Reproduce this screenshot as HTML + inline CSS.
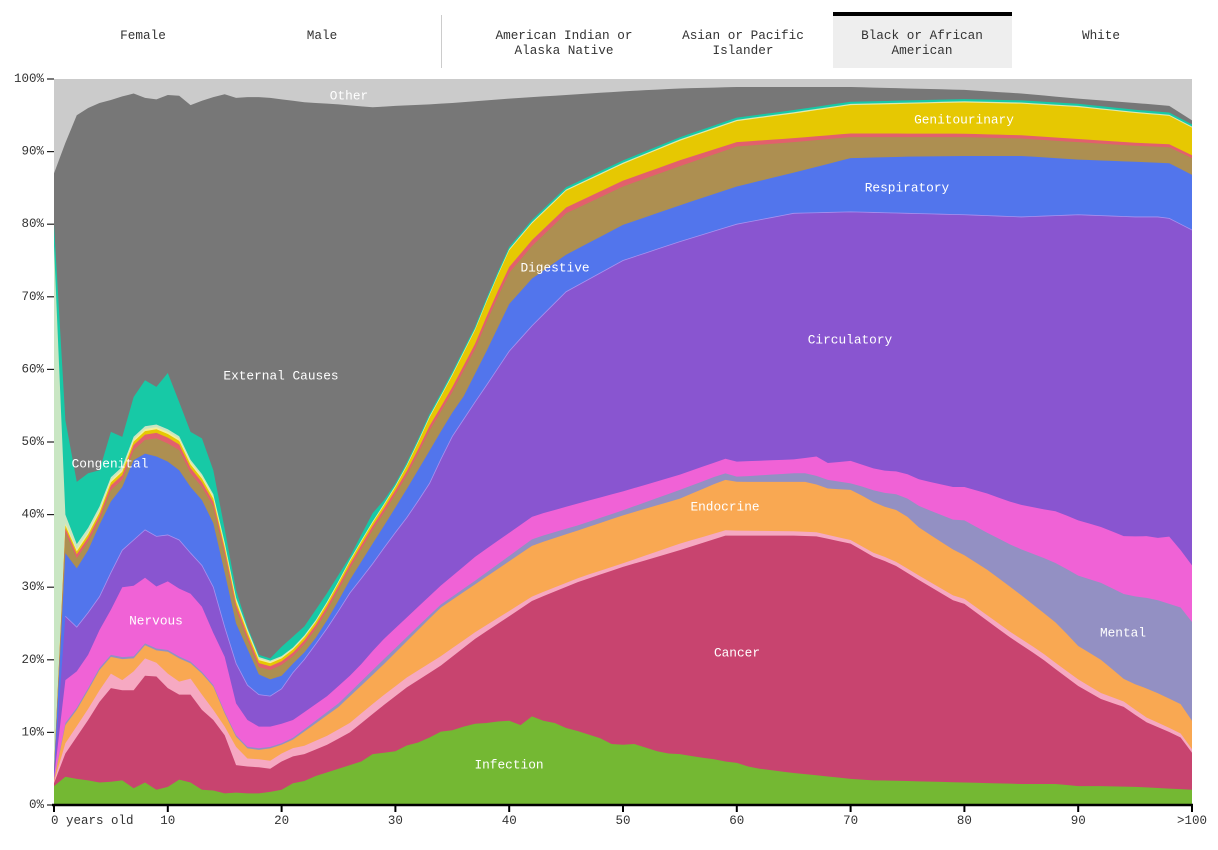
<!DOCTYPE html>
<html>
<head>
<meta charset="utf-8">
<style>
  html, body { margin:0; padding:0; background:#fff; }
  body { width:1218px; height:850px; position:relative; overflow:hidden;
         font-family:"Liberation Mono","DejaVu Sans Mono",monospace; color:#333; }
  .tab { position:absolute; top:28px; width:178px; text-align:center;
         font-size:12.7px; line-height:15px; color:#333; }
  .active-bg { position:absolute; left:833px; top:16px; width:179px; height:52px; background:#eeeeee; }
  .active-bar { position:absolute; left:833px; top:12px; width:179px; height:4px; background:#000; }
  .sep { position:absolute; left:441px; top:15px; width:1px; height:53px; background:#cccccc; }
  svg { position:absolute; left:0; top:0; }
</style>
</head>
<body>
<div class="active-bg"></div>
<div class="active-bar"></div>
<div class="sep"></div>
<div class="tab" style="left:54px;">Female</div>
<div class="tab" style="left:233px;">Male</div>
<div class="tab" style="left:475px;">American Indian or<br>Alaska Native</div>
<div class="tab" style="left:654px;">Asian or Pacific<br>Islander</div>
<div class="tab" style="left:833px;">Black or African<br>American</div>
<div class="tab" style="left:1012px;">White</div>

<svg id="chart" width="1218" height="850" xmlns="http://www.w3.org/2000/svg">
  <g id="areas"></g>
  <g id="axes" font-family="Liberation Mono, DejaVu Sans Mono, monospace" font-size="12.5" fill="#333"></g>
  <g id="labels" font-family="Liberation Mono, DejaVu Sans Mono, monospace" font-size="12.8" fill="#ffffff" text-anchor="middle" dominant-baseline="central">
    <text x="349" y="96">Other</text>
    <text x="281" y="376">External Causes</text>
    <text x="110" y="464">Congenital</text>
    <text x="156" y="621">Nervous</text>
    <text x="555" y="268">Digestive</text>
    <text x="964" y="120">Genitourinary</text>
    <text x="907" y="188">Respiratory</text>
    <text x="850" y="340">Circulatory</text>
    <text x="725" y="507">Endocrine</text>
    <text x="737" y="653">Cancer</text>
    <text x="1123" y="633">Mental</text>
    <text x="509" y="765">Infection</text>
  </g>
</svg>

<script>
(function(){
  var NS = "http://www.w3.org/2000/svg";
  function X(a){ return 54 + a*11.38; }
  function Y(p){ return 805 - p*7.26; }
  function interp(pts, a){
    if (a <= pts[0][0]) return pts[0][1];
    for (var i=1;i<pts.length;i++){
      if (a <= pts[i][0]){
        var a0=pts[i-1][0], v0=pts[i-1][1], a1=pts[i][0], v1=pts[i][1];
        return v0 + (v1-v0)*(a-a0)/(a1-a0);
      }
    }
    return pts[pts.length-1][1];
  }
  var layers = [
    {c:"#74b833", t:"top", p:[[0,2.6],[1,3.9],[2,3.6],[3,3.4],[4,3.1],[5,3.2],[6,3.4],[7,2.3],[8,3.1],[9,2.1],[10,2.5],[11,3.5],[12,3.1],[13,2.1],[14,2.0],[15,1.6],[16,1.7],[17,1.6],[18,1.6],[19,1.8],[20,2.1],[21,3.0],[22,3.3],[23,4.0],[24,4.5],[25,5.0],[26,5.5],[27,6.0],[28,7.0],[29,7.2],[30,7.4],[31,8.2],[32,8.6],[33,9.3],[34,10.1],[35,10.3],[36,10.8],[37,11.2],[38,11.3],[39,11.5],[40,11.6],[41,11.0],[42,12.2],[43,11.6],[44,11.3],[45,10.6],[46,10.2],[47,9.7],[48,9.2],[49,8.4],[50,8.3],[51,8.4],[52,7.9],[53,7.4],[54,7.1],[55,7.0],[57,6.5],[58,6.3],[59,6.0],[60,5.8],[61,5.3],[62,5.0],[64,4.6],[65,4.4],[67,4.1],[70,3.6],[72,3.4],[75,3.3],[80,3.1],[85,2.9],[88,2.9],[90,2.6],[92,2.6],[95,2.5],[100,2.1]]},
    {c:"#c8446f", t:"top", p:[[0,3.0],[1,7.1],[2,9.4],[3,11.7],[4,14.2],[5,16.1],[6,15.8],[7,15.8],[8,17.8],[9,17.7],[10,16.1],[11,15.2],[12,15.2],[13,13.1],[14,11.7],[15,9.6],[16,5.5],[17,5.3],[18,5.2],[19,5.0],[20,6.0],[21,6.7],[22,7.0],[24,8.3],[26,10.0],[28.6,13.3],[31,16.2],[33.9,19.1],[37.1,23.0],[40,26.0],[42.1,28.2],[46.2,30.8],[50,32.8],[55,35.1],[59,37.1],[65,37.1],[67,37.0],[70,36.0],[72,34.2],[73.7,33.2],[76.1,30.9],[79,28.2],[80,27.7],[82,25.4],[84,23.1],[86.7,20.3],[88.2,18.5],[90,16.4],[92,14.6],[94.2,13.4],[95.7,11.6],[97.8,10.2],[99,9.3],[100,7.2]]},
    {c:"#f6a9c2", t:"th", p:[[0,0.2],[1,1.4],[4,1.6],[5,2.0],[6,1.4],[7,2.6],[8,2.4],[9,1.9],[10,2.0],[11,1.8],[12,2.2],[13,2.1],[14,1.4],[15,1.2],[16,2.5],[17,1.1],[20,1.1],[28.6,1.4],[33.9,1.3],[37.1,0.9],[42.1,0.6],[50,0.5],[55,0.9],[60,0.7],[70,0.5],[80,0.7],[90,0.9],[100,0.5]]},
    {c:"#f9a852", t:"top", p:[[0,3.4],[1,11.0],[2,13.1],[3,15.8],[4,18.6],[5,20.4],[6,20.1],[7,20.2],[8,22.0],[9,21.3],[10,21.1],[11,20.2],[12,19.5],[13,18.1],[14,16.3],[15,12.6],[16,9.4],[17,7.8],[18,7.6],[19,7.8],[20,8.3],[21,9.0],[25,13.5],[28.6,18.8],[33.9,27.1],[37.1,30.5],[42.1,35.8],[46.2,37.9],[50,39.9],[55,42.2],[58.9,44.8],[60.1,44.5],[64.9,44.5],[66.4,44.5],[67.9,43.6],[70.1,43.4],[72.5,41.3],[74.5,40.4],[76.1,38.1],[79.1,35.1],[80,34.4],[82.1,32.3],[84.5,29.5],[86.7,26.8],[88.2,24.9],[90,21.9],[92.1,19.9],[94.2,17.1],[96.6,15.7],[99,13.9],[100,11.6]]},
    {c:"#9390c3", t:"th", p:[[0,0.1],[1,0.3],[20,0.2],[28.6,0.7],[33.9,0.4],[37.1,0.5],[42.1,0.9],[46.2,0.7],[50,0.7],[55,1.2],[59,0.9],[60,0.7],[65,1.2],[68,1.2],[70,0.9],[72.5,1.8],[74.5,2.3],[76.1,3.0],[79,4.1],[80,4.8],[82,5.1],[84.5,6.0],[86.7,7.4],[88.2,8.3],[90,9.7],[92,10.6],[94.2,11.8],[96.6,12.7],[99,13.3],[100,13.6]]},
    {c:"#f062d6", t:"top", p:[[0,3.7],[1,17.2],[2,18.4],[3,20.7],[4,24.1],[5,26.9],[6,30.0],[7,30.2],[8,31.3],[9,30.1],[10,30.8],[11,29.8],[12,29.1],[13,27.3],[14,23.7],[15,20.4],[16,14.0],[17,11.7],[18,10.8],[19,10.8],[20,11.2],[21,11.7],[24,15.0],[26.5,18.5],[28.6,22.3],[33.9,30.1],[37.1,34.3],[42.1,39.8],[46.2,41.6],[50,43.2],[55,45.5],[59,47.7],[60,47.3],[65,47.6],[67,48.0],[68,47.1],[70,47.4],[72.5,46.1],[74.5,45.9],[76.1,44.8],[79,43.8],[80,43.8],[82,42.9],[84.5,41.5],[86.7,40.8],[88.2,40.4],[90,39.2],[92,38.3],[94.2,36.9],[95.7,37.1],[97.4,36.7],[98.3,37.1],[99,35.1],[100,33.0]]},
    {c:"#8955d0", t:"top", p:[[0,4.0],[1,26.0],[2,24.5],[3,26.5],[4,28.7],[5,32.0],[6,35.1],[7,36.5],[8,37.9],[9,37.0],[10,37.2],[11,36.5],[12,34.7],[13,33.0],[14,30.0],[15,24.5],[16,19.5],[17,16.5],[18,15.2],[19,15.0],[20,16.0],[20.7,17.7],[22.2,20.4],[24.3,25.0],[26,29.2],[27.8,32.8],[29.5,36.5],[31.3,40.2],[33,44.3],[34.8,50.3],[37,55.5],[38,57.8],[40,62.5],[42,66],[45,70.7],[50,75],[55,77.6],[60,80],[65,81.5],[70,81.7],[75,81.5],[80,81.3],[85,81.0],[90,81.3],[95,81.0],[97,81.0],[98,80.8],[100,79.2]]},
    {c:"#5275ec", t:"top", p:[[0,4.5],[1,34.7],[2,32.6],[3,35.1],[4,38.6],[5,41.8],[6,43.8],[7,47.5],[8,48.4],[9,48.0],[10,47.3],[11,46.1],[12,43.8],[13,42.0],[14,38.8],[15,32.0],[16,25.0],[17,21.5],[18,18.0],[19,17.3],[20,17.8],[20.7,19.0],[22.5,21.8],[24.3,26.2],[26,31.0],[27.8,35.5],[29.5,39.7],[31.3,44.3],[33,48.8],[34.8,53.6],[36,56.3],[38,62.5],[40,69.0],[42,72.5],[45,75.8],[50,79.9],[55,82.6],[60,85.2],[65,87.1],[70,89.1],[75,89.3],[80,89.4],[85,89.4],[90,88.9],[95,88.6],[98,88.4],[100,86.8]]},
    {c:"#ad8f51", t:"top", p:[[0,4.7],[1,37.6],[2,34.0],[3,36.3],[4,39.3],[5,43.4],[6,44.8],[7,48.9],[8,50.3],[9,50.5],[10,49.8],[11,48.9],[12,45.7],[13,43.8],[14,41.1],[15,34.5],[16,27.0],[17,22.8],[18,19.0],[19,18.6],[20,19.3],[20.7,20.0],[22.5,23.0],[24.3,27.6],[26,32.6],[27.8,37.4],[29.5,41.5],[31.3,46.2],[33,51.6],[34.8,56.3],[37,62.8],[38,66.5],[39,70.0],[40,73.3],[42,77.0],[45,81.5],[50,85.2],[55,88.0],[60,90.7],[65,91.3],[70,92.0],[75,92.0],[80,92.0],[85,91.8],[90,91.3],[95,90.8],[98,90.6],[100,89.1]]},
    {c:"#e2606c", t:"th", p:[[0,0.1],[1,0.5],[5,0.6],[10,0.8],[15,0.6],[20,0.5],[30,0.55],[40,0.8],[55,0.8],[60,0.6],[70,0.5],[100,0.4]]},
    {c:"#e6c802", t:"th", p:[[0,0.1],[1,0.4],[10,0.5],[20,0.4],[30,0.45],[35,1.6],[40,2.3],[50,2.3],[55,2.7],[60,2.9],[70,3.9],[80,4.3],[90,4.4],[100,3.8]]},
    {c:"#f3ee9c", t:"th", p:[[0,0.1],[1,0.3],[15,0.3],[20,0.15],[25,0.1],[100,0.05]]},
    {c:"#c9e6c3", t:"th", p:[[0,72],[1,1.2],[2,0.7],[5,0.4],[15,0.3],[20,0.15],[30,0.1],[100,0.1]]},
    {c:"#17c9a6", t:"top", min:0.3, p:[[0,80],[1,53],[2,44.5],[3,45.7],[4,46.1],[5,51.4],[6,50.7],[7,56.2],[8,58.5],[9,57.6],[10,59.5],[11,55.5],[12,51.4],[13,50.5],[14,46.1],[15,38],[16,29.6],[17,23.7],[18,20.2],[19,20.2],[20,21.8],[22,24.6],[24,29.2],[26,34.2],[28,40.2],[30,43.8],[32,49.3],[34,56.2],[35,59],[100,0]]},
    {c:"#777777", t:"top", p:[[0,87],[1,91.2],[2,95.0],[3,96.0],[4,96.7],[5,97.1],[6,97.6],[7,98.0],[8,97.4],[9,97.2],[10,97.8],[11,97.7],[12,96.4],[13,97.0],[14,97.5],[15,97.9],[16,97.4],[17,97.5],[18,97.5],[19,97.4],[20,97.2],[22,96.8],[25,96.5],[28,96.1],[30,96.3],[33,96.5],[35,96.7],[40,97.3],[45,97.8],[50,98.3],[55,98.7],[60,98.9],[70,98.9],[75,98.7],[80,98.5],[85,98.0],[90,97.3],[95,96.7],[98,96.3],[100,94.3]]}
  ];
  var ages = []; for (var a=0;a<=100;a++) ages.push(a);
  var prev = ages.map(function(){return 0;});
  var tops = [];
  layers.forEach(function(L){
    var cur = ages.map(function(a,i){
      var v;
      if (L.t === "th") v = prev[i] + interp(L.p, a);
      else v = Math.max(prev[i] + (L.min||0), interp(L.p, a));
      return Math.min(100, v);
    });
    tops.push(cur); prev = cur;
  });
  var g = document.getElementById("areas");
  var r = document.createElementNS(NS,"rect");
  r.setAttribute("x", X(0)); r.setAttribute("y", Y(100));
  r.setAttribute("width", X(100)-X(0)); r.setAttribute("height", Y(0)-Y(100));
  r.setAttribute("fill", "#cbcbcb"); g.appendChild(r);
  for (var li = layers.length-1; li >= 0; li--){
    var t = tops[li];
    var d = "M" + X(0).toFixed(2) + "," + Y(0).toFixed(2);
    for (var i=0;i<ages.length;i++) d += "L" + X(ages[i]).toFixed(2) + "," + Y(t[i]).toFixed(2);
    d += "L" + X(100).toFixed(2) + "," + Y(0).toFixed(2) + "Z";
    var p = document.createElementNS(NS,"path");
    p.setAttribute("d", d); p.setAttribute("fill", layers[li].c);
    g.appendChild(p);
  }
  (function(){
    var t = tops[6], d = "";
    for (var i=1;i<ages.length;i++) d += (i===1?"M":"L") + X(ages[i]).toFixed(2) + "," + Y(t[i]).toFixed(2);
    var p = document.createElementNS(NS,"path");
    p.setAttribute("d", d); p.setAttribute("fill","none");
    p.setAttribute("stroke","#a892f0"); p.setAttribute("stroke-width","0.8");
    g.appendChild(p);
  })();
  var ax = document.getElementById("axes");
  function line(x1,y1,x2,y2,w,c){
    var l = document.createElementNS(NS,"line");
    l.setAttribute("x1",x1); l.setAttribute("y1",y1); l.setAttribute("x2",x2); l.setAttribute("y2",y2);
    l.setAttribute("stroke",c||"#000"); l.setAttribute("stroke-width",w);
    ax.appendChild(l);
  }
  function text(x,y,s,anchor){
    var tx = document.createElementNS(NS,"text");
    tx.setAttribute("x",x); tx.setAttribute("y",y);
    tx.setAttribute("text-anchor",anchor); tx.setAttribute("dominant-baseline","central");
    tx.textContent = s; ax.appendChild(tx);
  }
  for (var p=0;p<=100;p+=10){
    var yy = Y(p);
    line(47, yy, 54, yy, 1.2, "#222");
    text(44, yy, p+"%", "end");
  }
  line(52, 805, 1193, 805, 2.6, "#000");
  for (var a2=0;a2<=100;a2+=10){
    var xx = X(a2);
    line(xx, 805, xx, 812, 2, "#000");
    if (a2===0) text(51, 821, "0 years old", "start");
    else if (a2===100) text(xx, 821, ">100", "middle");
    else text(xx, 821, String(a2), "middle");
  }
})();
</script>
</body>
</html>
